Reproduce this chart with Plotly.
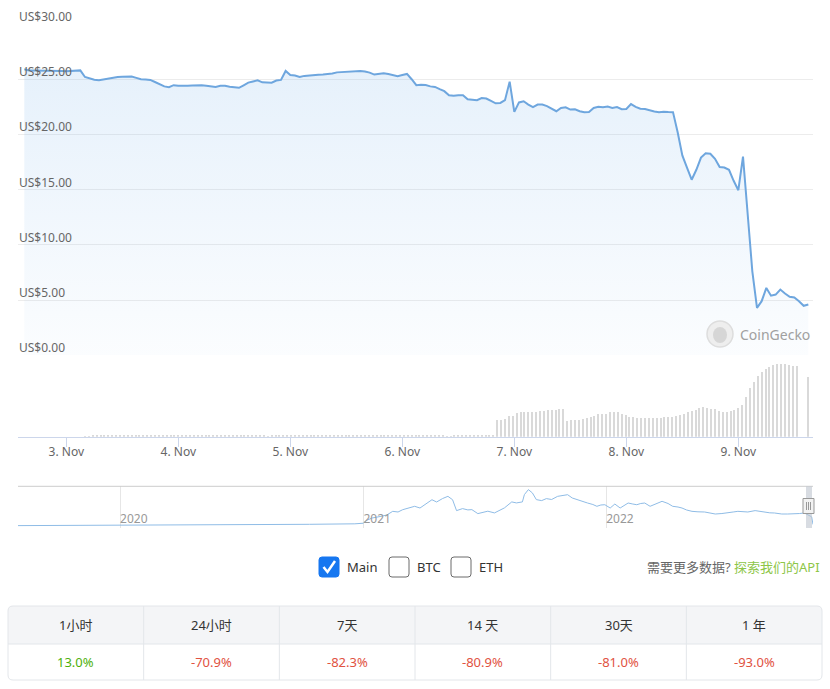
import pandas as pd
import plotly.graph_objects as go

W, H = 830, 689

# hourly price, 2 Nov 15:00 -> 9 Nov 15:00 (USD)
price = [
    25.9, 25.8, 25.8, 25.8, 25.75, 25.8, 25.75, 25.78, 25.75, 25.72, 25.75, 25.72, 25.8,
    25.2, 25.05, 24.95, 24.91, 24.98, 25.08, 25.18, 25.2, 25.22, 25.22, 25.24, 25.12, 25.0, 24.98, 24.94,
    24.75, 24.52, 24.35, 24.28, 24.46, 24.4, 24.38, 24.4, 24.42, 24.45, 24.45, 24.4, 24.34, 24.3, 24.4,
    24.4, 24.32, 24.25, 24.22,
    24.45, 24.69, 24.8, 24.9, 24.72, 24.69, 24.69, 24.88, 24.94,
    25.75, 25.38, 25.34, 25.2, 25.3, 25.35, 25.38, 25.4, 25.43, 25.46, 25.52, 25.62, 25.65, 25.67,
    25.69, 25.72, 25.74, 25.7, 25.6, 25.42, 25.48, 25.55, 25.48, 25.38, 25.28, 25.38, 25.48,
    25.0, 24.46, 24.5, 24.47, 24.35, 24.3, 24.1, 23.92, 23.55, 23.5, 23.55, 23.55, 23.18, 23.12,
    23.1, 23.3, 23.25, 23.03, 22.82, 22.85, 23.1, 24.78,
    22.04, 22.9, 23.0, 22.7, 22.47, 22.7, 22.7, 22.56, 22.35, 22.1, 22.4, 22.46, 22.25, 22.28,
    22.1, 22.02, 22.04, 22.4, 22.5, 22.46, 22.52, 22.4, 22.48, 22.28, 22.3, 22.75, 22.5, 22.33,
    22.31, 22.18, 22.08, 22.01, 22.06, 22.03, 22.02,
    20.2, 18.1, 17.0, 15.9, 16.8, 17.9, 18.3, 18.25, 17.8, 17.05, 17.0, 16.8, 15.8, 14.95, 18.0,
    12.9, 7.6, 4.3, 4.9, 6.1, 5.4, 5.5, 5.95, 5.6, 5.3, 5.23, 4.9, 4.48, 4.6,
]
price_start = "2022-11-02 15:00"

# volume (USD millions), one bar every 50 minutes from 2 Nov 15:30
volume = [0] * 15 + [
    6, 7, 8, 8, 9, 9, 10, 9, 8, 9,
    10, 10, 11, 12, 13, 14, 15, 15, 14, 13,
    13, 12, 12, 11, 11, 10, 10, 11, 12, 12,
    11, 10, 10, 9, 9, 10, 11, 12, 13, 13,
    12, 11, 10, 10, 9, 8, 8, 7, 8, 9,
    10, 11, 12, 12, 13, 13, 12, 12, 11, 11,
    12, 13, 14, 14, 13, 12, 11, 10, 10, 9,
    8, 9, 10, 11, 12, 12, 11, 10, 9, 9,
    8, 8, 9, 10, 11, 11, 12, 12, 11, 10,
    9, 8, 8, 7, 7, 8, 8, 9, 9, 10,
    10, 11, 11, 12, 12, 12,
    163, 163, 173, 203, 203, 233, 243, 243, 243, 250, 250, 257, 257, 263, 263, 263, 273, 273,
    157, 163, 163, 163, 177, 183, 197, 210, 223, 223,
    230, 243, 243, 243, 223, 217, 197, 197, 190, 183,
    183, 183, 183, 183, 190, 197, 197, 197, 210, 217,
    230, 243, 257, 270, 283, 297, 283, 277, 273, 257,
    243, 250, 257, 267, 283, 317, 400, 483, 550, 603,
    643, 677, 700, 717, 723, 723, 723, 717, 707, 703,
    0, 0, 593,
]
volume_start = "2022-11-02 15:30"

# navigator: full history
nav_dates = [
    "2019-07-31", "2019-10-03", "2020-01-01", "2020-03-31", "2020-07-14", "2020-10-12", "2020-12-19",
    "2021-01-01", "2021-01-05", "2021-01-14", "2021-01-26", "2021-02-05", "2021-02-14", "2021-02-22",
    "2021-03-01", "2021-03-12", "2021-03-19", "2021-03-27", "2021-04-05", "2021-04-14", "2021-04-21",
    "2021-04-30", "2021-05-08", "2021-05-15", "2021-05-21", "2021-05-30", "2021-06-07", "2021-06-13",
    "2021-06-22", "2021-06-29", "2021-07-07", "2021-07-17", "2021-07-25", "2021-08-01", "2021-08-12",
    "2021-08-19", "2021-08-28", "2021-08-31", "2021-09-06", "2021-09-12", "2021-09-18", "2021-09-26",
    "2021-10-03", "2021-10-11", "2021-10-20", "2021-10-27", "2021-11-04", "2021-11-11", "2021-11-19",
    "2021-11-25", "2021-12-04", "2021-12-12", "2021-12-18", "2021-12-24", "2021-12-30", "2022-01-07",
    "2022-01-14", "2022-01-22", "2022-01-28", "2022-02-03", "2022-02-10", "2022-02-16", "2022-02-22",
    "2022-02-28", "2022-03-08", "2022-03-17", "2022-03-26", "2022-04-04", "2022-04-11", "2022-04-19",
    "2022-04-25", "2022-05-02", "2022-05-10", "2022-05-19", "2022-05-29", "2022-06-06", "2022-06-14",
    "2022-06-24", "2022-07-03", "2022-07-11", "2022-07-18", "2022-07-26", "2022-08-02", "2022-08-13",
    "2022-08-20", "2022-08-28", "2022-09-04", "2022-09-11", "2022-09-22", "2022-10-01", "2022-10-11",
    "2022-10-19", "2022-10-26", "2022-11-06", "2022-11-08",
]
nav_price = [
    2.0, 2.3, 2.7, 3.2, 4.3, 5.0, 6.1,
    7.5, 13.6, 19.3, 22.7, 26.1, 34.5, 33.0,
    38.2, 43.6, 45.9, 42.0, 52.3, 60.9, 55.7,
    63.6, 68.6, 60.9, 36.1, 40.7, 37.7, 38.4,
    29.3, 32.0, 34.8, 30.9, 36.6, 42.3, 55.9,
    53.6, 55.9, 72.5, 83.9, 76.4, 61.1, 58.9,
    63.4, 61.4, 68.6, 70.5, 72.3, 64.8, 60.2,
    57.3, 53.4, 50.0, 45.9, 48.9, 49.5, 42.0,
    51.1, 42.0, 47.7, 53.4, 51.1, 49.5, 52.3,
    53.4, 45.9, 51.1, 57.3, 52.3, 45.9, 44.3,
    42.0, 37.5, 34.5, 33.4, 33.0, 30.7, 28.4,
    29.5, 30.7, 33.0, 34.5, 33.0, 33.0, 36.1,
    34.1, 32.3, 31.1, 30.7, 28.4, 28.4, 28.4,
    29.5, 30.7, 22.0, 4.6,
]

price_ticks = [0, 5, 10, 15, 20, 25, 30]
day_ticks = ["2022-11-03", "2022-11-04", "2022-11-05", "2022-11-06", "2022-11-07", "2022-11-08", "2022-11-09"]
day_labels = ["3. Nov", "4. Nov", "5. Nov", "6. Nov", "7. Nov", "8. Nov", "9. Nov"]
year_ticks = ["2020-01-01", "2021-01-01", "2022-01-01"]
year_labels = ["2020", "2021", "2022"]

periods = ["1小时", "24小时", "7天", "14 天", "30天", "1 年"]
changes = [13.0, -70.9, -82.3, -80.9, -81.0, -93.0]

FONT = "Noto Sans, Noto Sans CJK SC, sans-serif"
GREEN, RED = "#4eaf0a", "#e15241"
GRID = "#e3e6ea"


def px(x):
    return x / W


def py(y):
    return 1 - y / H


price_t = pd.date_range(price_start, periods=len(price), freq="h")
vol_t = pd.date_range(volume_start, periods=len(volume), freq="50min")

fig = go.Figure()
fig.add_trace(go.Scatter(
    x=price_t, y=price, mode="lines", line=dict(color="#6ea6de", width=2),
    fill="tozeroy",
    fillgradient=dict(type="vertical", start=0, stop=26,
                      colorscale=[[0, "rgba(124,181,236,0.03)"], [1, "rgba(124,181,236,0.19)"]]),
    xaxis="x", yaxis="y", hoverinfo="skip", showlegend=False,
))
fig.add_trace(go.Bar(
    x=vol_t, y=volume, width=26 * 60 * 1000, marker=dict(color="#d9d9d9", line=dict(width=0)),
    xaxis="x", yaxis="y2", hoverinfo="skip", showlegend=False,
))
fig.add_trace(go.Scatter(
    x=pd.to_datetime(nav_dates), y=nav_price, mode="lines", line=dict(color="#8fbce6", width=1),
    xaxis="x2", yaxis="y3", hoverinfo="skip", showlegend=False,
))

xdom = [px(18), px(813)]
fig.update_layout(
    width=W, height=H, margin=dict(l=0, r=0, t=0, b=0),
    paper_bgcolor="white", plot_bgcolor="white",
    font=dict(family=FONT, size=12, color="#666"),
    bargap=0,
    xaxis=dict(domain=xdom, anchor="y2", type="date",
               range=["2022-11-02 13:39", "2022-11-09 16:00"],
               tickvals=day_ticks, ticktext=day_labels,
               showgrid=False, showline=True, linecolor="#ccd6eb", linewidth=1,
               ticks="outside", ticklen=9, tickcolor="#ccd6eb", ticklabelstandoff=-5,
               tickfont=dict(size=12, color="#666"), zeroline=False),
    yaxis=dict(domain=[py(355.3), py(24)], anchor="x", range=[0, 30],
               tickvals=price_ticks, showticklabels=False,
               gridcolor="#ececec", zeroline=False, showline=False),
    yaxis2=dict(domain=[py(436.7), py(360)], anchor="x", range=[0, 767],
                visible=False),
    xaxis2=dict(domain=xdom, anchor="y3", type="date",
                range=["2019-07-31 12:00", "2022-11-08 00:00"],
                tickvals=year_ticks, ticktext=year_labels,
                ticklabelposition="inside right", ticks="", ticklabelstandoff=-3,
                showgrid=True, gridcolor="#e6e6e6", showline=False, zeroline=False,
                tickfont=dict(size=12, color="#999")),
    yaxis3=dict(domain=[py(528), py(486.3)], anchor="x2", range=[-3.4, 91.4],
                visible=False),
)

shapes = []
# navigator outline, selected zone and handle
shapes.append(dict(type="line", xref="paper", yref="paper", x0=px(18), x1=px(813), y0=py(486.3), y1=py(486.3),
                   line=dict(color="#cccccc", width=1)))
shapes.append(dict(type="rect", xref="paper", yref="paper", x0=px(806), x1=px(812), y0=py(528), y1=py(486.3),
                   fillcolor="rgba(190,196,206,0.6)", line=dict(width=0)))
shapes.append(dict(type="rect", xref="paper", yref="paper", x0=px(803), x1=px(814), y0=py(513.5), y1=py(498.5),
                   fillcolor="#f2f2f2", line=dict(color="#999999", width=1)))
for hx in (806.5, 808.5, 810.5):
    shapes.append(dict(type="line", xref="paper", yref="paper", x0=px(hx), x1=px(hx), y0=py(510), y1=py(502),
                       line=dict(color="#999999", width=1)))


def rounded(x0, y0, x1, y1, r, top=True, bottom=True):
    rt = r if top else 0
    rb = r if bottom else 0
    return (f"M {px(x0 + rt)},{py(y0)} L {px(x1 - rt)},{py(y0)} Q {px(x1)},{py(y0)} {px(x1)},{py(y0 + rt)} "
            f"L {px(x1)},{py(y1 - rb)} Q {px(x1)},{py(y1)} {px(x1 - rb)},{py(y1)} "
            f"L {px(x0 + rb)},{py(y1)} Q {px(x0)},{py(y1)} {px(x0)},{py(y1 - rb)} "
            f"L {px(x0)},{py(y0 + rt)} Q {px(x0)},{py(y0)} {px(x0 + rt)},{py(y0)} Z")


# check boxes
shapes.append(dict(type="path", xref="paper", yref="paper", path=rounded(319, 557, 339, 577, 3),
                   fillcolor="#1677f0", line=dict(color="#1677f0", width=1)))
shapes.append(dict(type="path", xref="paper", yref="paper",
                   path=f"M {px(323.5)},{py(567)} L {px(327.5)},{py(572)} L {px(335)},{py(561)}",
                   line=dict(color="white", width=2.5)))
for bx in (389, 451):
    shapes.append(dict(type="path", xref="paper", yref="paper", path=rounded(bx, 557, bx + 20, 577, 3),
                       fillcolor="white", line=dict(color="#6b6b6b", width=1)))

# CoinGecko mark
shapes.append(dict(type="circle", xref="paper", yref="paper", x0=px(707), x1=px(733), y0=py(347), y1=py(321),
                   fillcolor="#eeeeee", line=dict(color="#dddddd", width=1.5)))
shapes.append(dict(type="circle", xref="paper", yref="paper", x0=px(713), x1=px(727), y0=py(343), y1=py(327),
                   fillcolor="#d6d6d6", line=dict(width=0)))

# change table
tx0, tx1, ty0, ty_mid, ty1 = 8, 822, 606, 644, 680
shapes.append(dict(type="path", xref="paper", yref="paper", path=rounded(tx0, ty0, tx1, ty_mid, 5, bottom=False),
                   fillcolor="#f4f5f7", line=dict(width=0)))
col_w = (tx1 - tx0) / len(periods)
for k in range(1, len(periods)):
    cx = tx0 + k * col_w
    shapes.append(dict(type="line", xref="paper", yref="paper", x0=px(cx), x1=px(cx), y0=py(ty1), y1=py(ty0),
                       line=dict(color=GRID, width=1)))
shapes.append(dict(type="line", xref="paper", yref="paper", x0=px(tx0), x1=px(tx1), y0=py(ty_mid), y1=py(ty_mid),
                   line=dict(color=GRID, width=1)))
shapes.append(dict(type="path", xref="paper", yref="paper", path=rounded(tx0, ty0, tx1, ty1, 5),
                   fillcolor="rgba(0,0,0,0)", line=dict(color=GRID, width=1)))
fig.update_layout(shapes=shapes)

ann = [
    dict(x=px(738), y=py(334), text="CoinGecko", font=dict(size=14, color="#a0a0a0")),
    dict(x=px(345), y=py(567), text="Main", font=dict(size=13, color="#333")),
    dict(x=px(415), y=py(567), text="BTC", font=dict(size=13, color="#333")),
    dict(x=px(477), y=py(567), text="ETH", font=dict(size=13, color="#333")),
]
for a in ann:
    a.update(xref="paper", yref="paper", xanchor="left", yanchor="middle", showarrow=False)
fig.update_layout(annotations=ann)
fig.add_annotation(x=px(822), y=py(567), xref="paper", yref="paper", xanchor="right", yanchor="middle",
                   showarrow=False, font=dict(size=13, color="#666"),
                   text='需要更多数据? <span style="color:#8dc647">探索我们的API</span>')

# price axis labels sit above their grid lines
for v in price_ticks:
    fig.add_annotation(x=px(17), y=v, xref="paper", yref="y", xanchor="left", yanchor="bottom",
                       yshift=-3, showarrow=False, text=f"US${v:.2f}", font=dict(size=12, color="#666"))

for k, (p, c) in enumerate(zip(periods, changes)):
    cx = tx0 + (k + 0.5) * col_w
    fig.add_annotation(x=px(cx), y=py((ty0 + ty_mid) / 2), xref="paper", yref="paper", showarrow=False,
                       xanchor="center", yanchor="middle", text=p, font=dict(size=13, color="#333"))
    fig.add_annotation(x=px(cx), y=py((ty_mid + ty1) / 2), xref="paper", yref="paper", showarrow=False,
                       xanchor="center", yanchor="middle", text=f"{c:.1f}%",
                       font=dict(size=13, color=GREEN if c >= 0 else RED))

fig.write_html("out.html", config={"displayModeBar": False},
               post_script="document.body.style.margin='0';")
